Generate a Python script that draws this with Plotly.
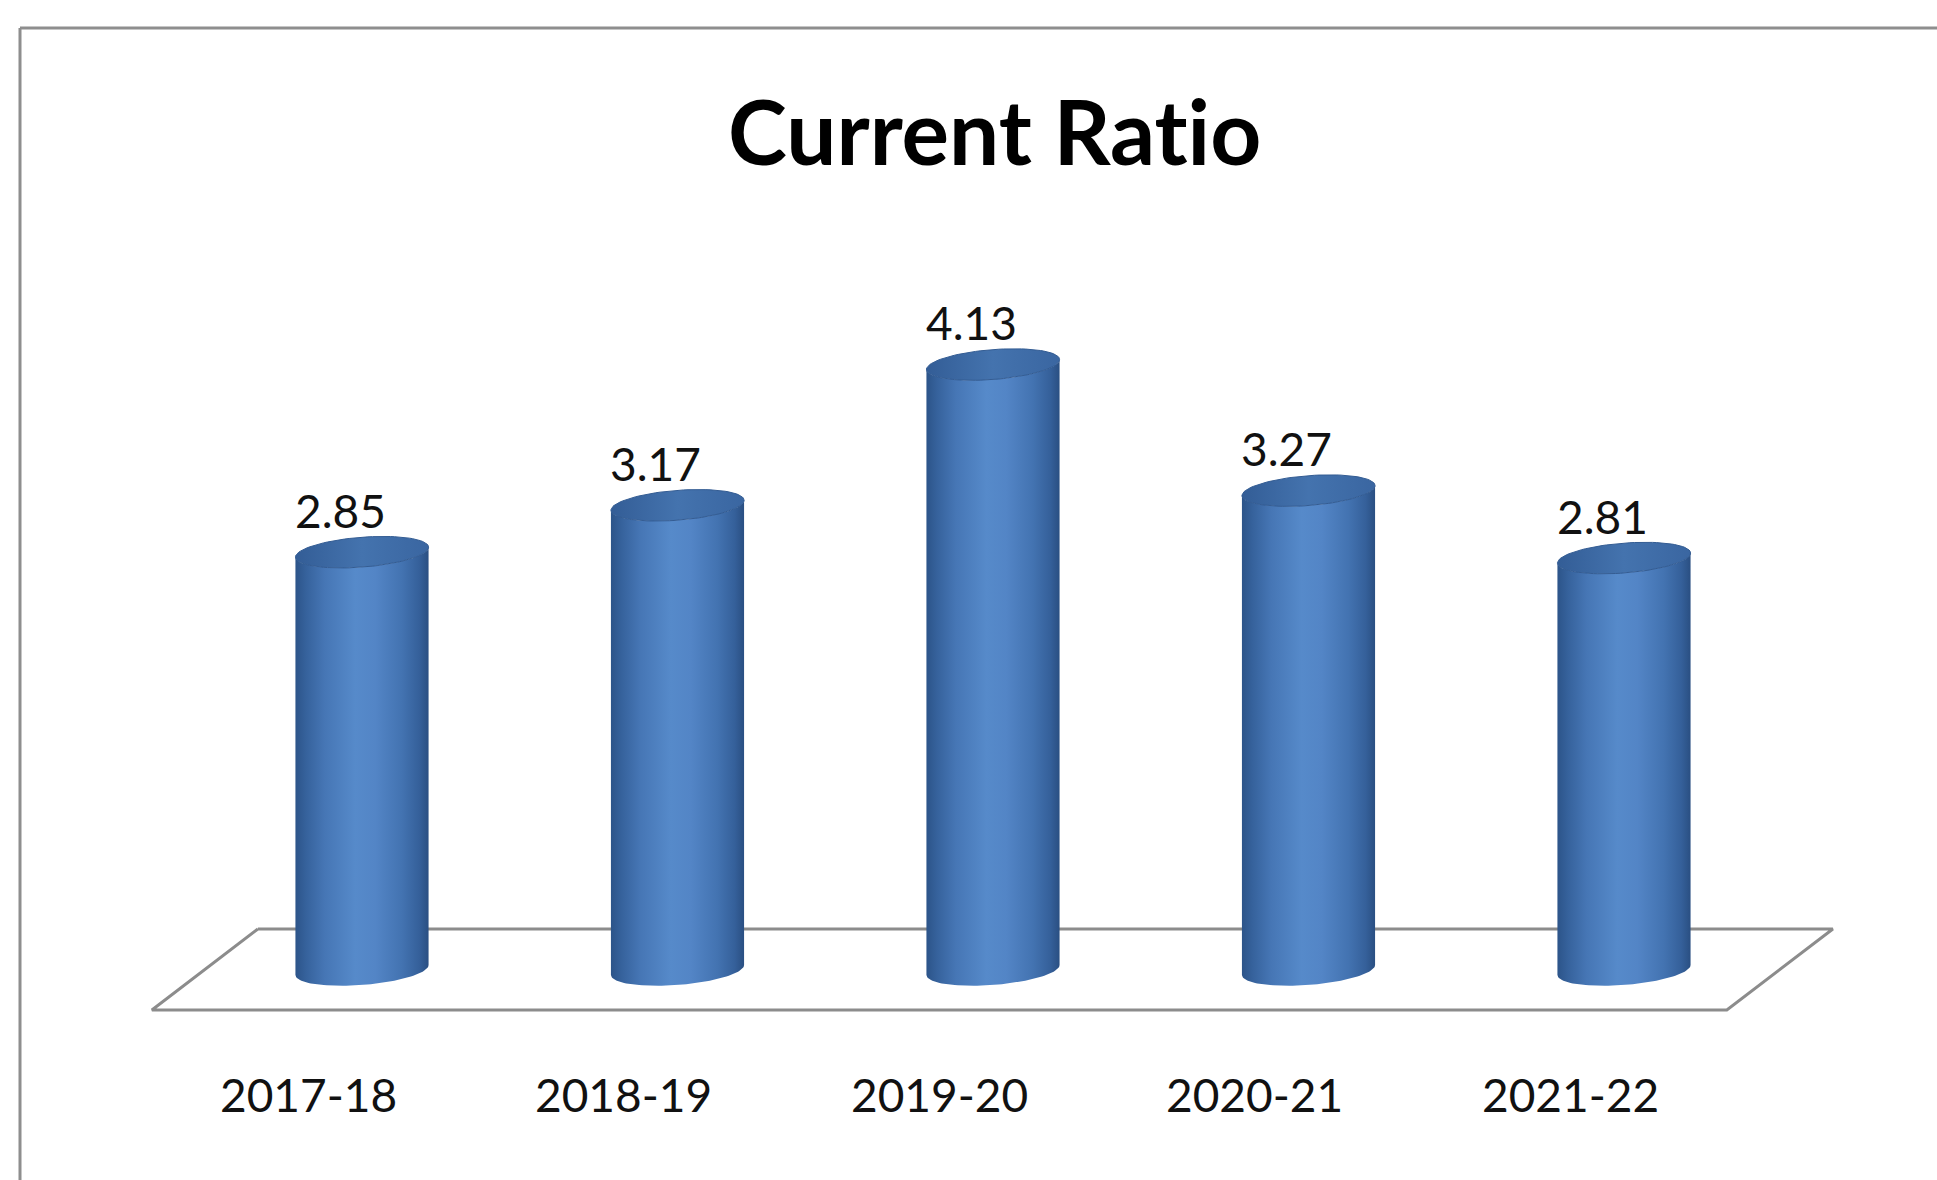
import numpy as np
import plotly.graph_objects as go

# Current ratio by financial year
years = ["2017-18", "2018-19", "2019-20", "2020-21", "2021-22"]
ratios = [2.85, 3.17, 4.13, 3.27, 2.81]

W, H = 1937, 1180

# cylinder geometry in axis units
RX = 0.211      # horizontal radius (category units)
RY = 0.102      # vertical radius of the end ellipses (value units)
TILT = 0.034    # slight perspective tilt of the ellipses

BODY_SCALE = [
    [0.00, "#2c5489"], [0.08, "#36629c"], [0.22, "#4676b5"],
    [0.45, "#568aca"], [0.60, "#5385c6"], [0.80, "#4373b1"],
    [0.93, "#35609a"], [1.00, "#2a4f82"],
]
CAP_SCALE = [[0.0, "#335d96"], [0.5, "#4473ae"], [1.0, "#3a66a1"]]

fig = go.Figure()

# floor of the 3-D plot area
floor_x = [-0.33, 4.662, 4.326, -0.666, -0.33]
floor_y = [0.28, 0.28, -0.273, -0.273, 0.28]
fig.add_trace(go.Scatter(
    x=floor_x, y=floor_y, mode="lines", fill="toself", fillcolor="white",
    line=dict(color="#8c8c8c", width=3), hoverinfo="skip", showlegend=False,
))


def ellipse(cx, cy, t):
    return cx + RX * np.cos(t), cy + RY * np.sin(t) + TILT * np.cos(t)


for i, (yr, v) in enumerate(zip(years, ratios)):
    # side of the cylinder: bottom front arc, then top front arc back
    tb = np.linspace(np.pi, 2 * np.pi, 60)
    bx, by = ellipse(i, 0.0, tb)
    tt = np.linspace(2 * np.pi, np.pi, 60)
    tx, ty = ellipse(i, v, tt)
    sx = np.concatenate([bx, tx, bx[:1]])
    sy = np.concatenate([by, ty, by[:1]])
    fig.add_trace(go.Scatter(
        x=sx, y=sy, mode="lines", fill="toself",
        fillgradient=dict(type="horizontal", colorscale=BODY_SCALE),
        line=dict(width=0, color="rgba(0,0,0,0)"),
        hoverinfo="skip", showlegend=False,
    ))
    # top cap
    tc = np.linspace(0, 2 * np.pi, 90)
    cx_, cy_ = ellipse(i, v, tc)
    fig.add_trace(go.Scatter(
        x=cx_, y=cy_, mode="lines", fill="toself",
        fillgradient=dict(type="horizontal", colorscale=CAP_SCALE),
        line=dict(width=1, color="#335c93"),
        hoverinfo="skip", showlegend=False,
    ))
    # value label
    fig.add_annotation(
        x=i, y=v, text=f"{v:.2f}", showarrow=False, xshift=-22, yshift=42,
        font=dict(family="Lato", size=46, color="#111111"),
    )
    # category label
    fig.add_annotation(
        x=i, y=-0.846, text=yr, showarrow=False, xshift=-54,
        font=dict(family="Lato", size=46, color="#111111"),
    )

# chart title (zero-width non-joiner keeps "t" and "i" as separate glyphs)
fig.add_annotation(
    x=994 / W, y=1 - 130 / H, xref="paper", yref="paper",
    text="<b>Current Rat\u200cio</b>", showarrow=False,
    font=dict(family="Lato", size=89, color="#000000"),
    xanchor="center", yanchor="middle",
)

# chart frame (top and left edges)
fx = 20 / W
fy = 1 - 28 / H
frame = dict(color="#8e8e8e", width=3)
fig.add_shape(type="line", xref="paper", yref="paper",
              x0=fx, y0=0, x1=fx, y1=fy, line=frame)
fig.add_shape(type="line", xref="paper", yref="paper",
              x0=fx, y0=fy, x1=1.01, y1=fy, line=frame)

unit_x = 315.5
x0 = -362 / unit_x
x1 = x0 + W / unit_x
unit_y = 146.6
y1 = 970 / unit_y
y0 = (970 - H) / unit_y

fig.update_layout(
    width=W, height=H,
    margin=dict(l=0, r=0, t=0, b=0),
    paper_bgcolor="white", plot_bgcolor="white",
    xaxis=dict(range=[x0, x1], visible=False, fixedrange=True),
    yaxis=dict(range=[y0, y1], visible=False, fixedrange=True),
    showlegend=False,
)

fig.write_html("out.html", config={"displayModeBar": False})
